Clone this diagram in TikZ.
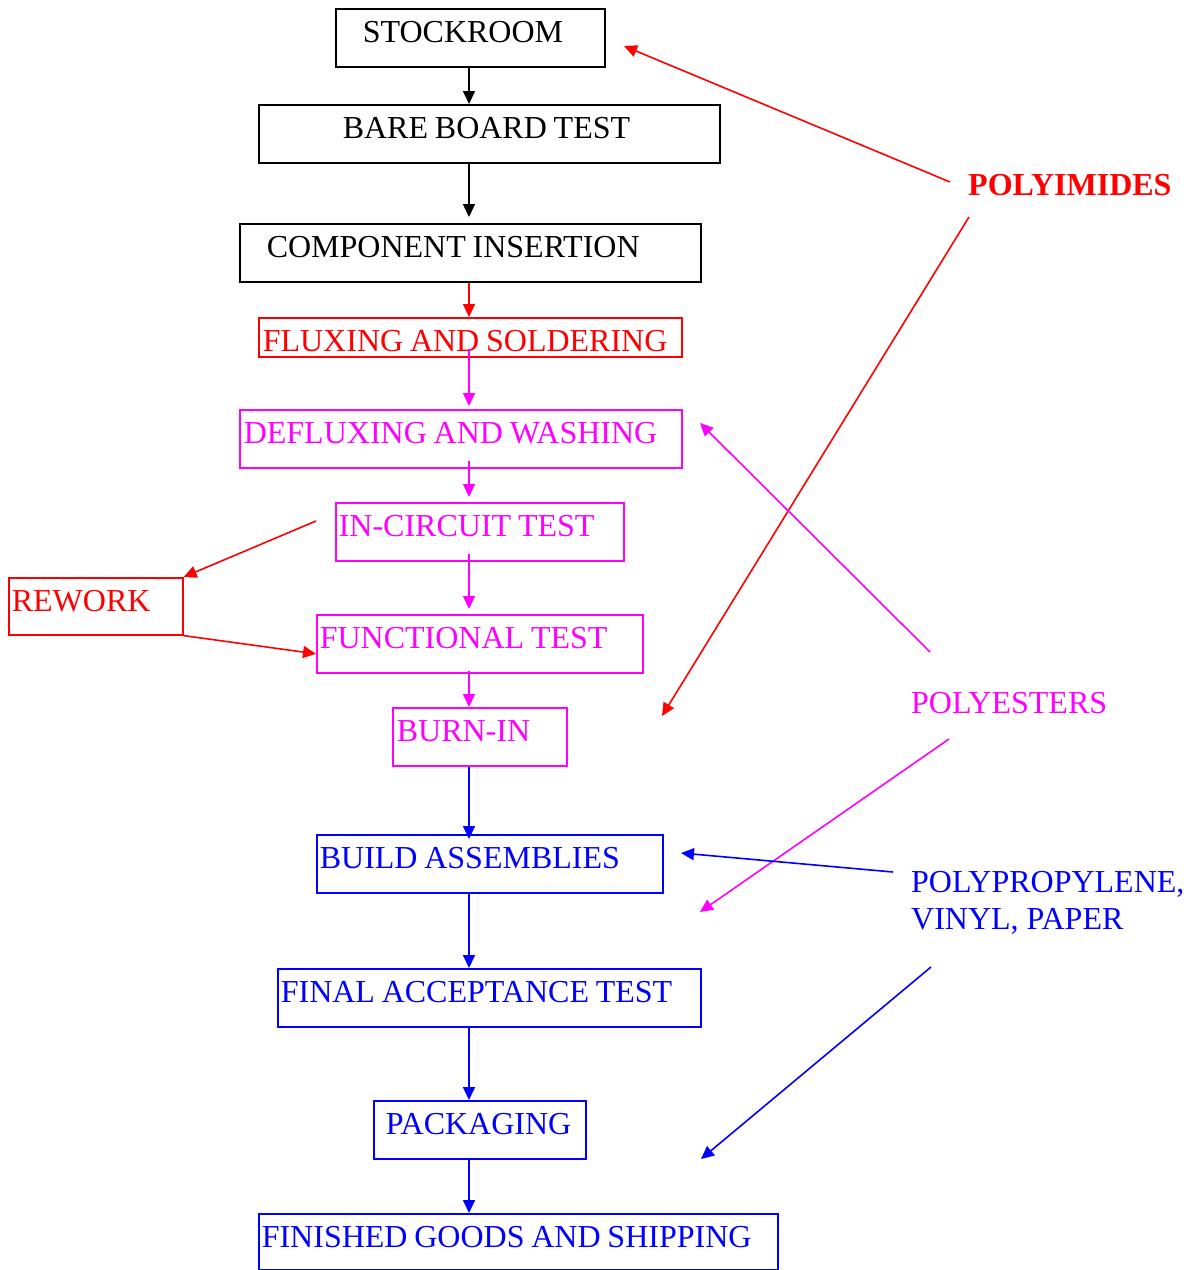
\documentclass[tikz,border=0pt]{standalone}
\usepackage{fontspec}
\setmainfont{Liberation Serif}
\usetikzlibrary{positioning,arrows.meta}
\definecolor{pred}{RGB}{255,0,0}
\definecolor{pmag}{RGB}{255,0,255}
\definecolor{pblue}{RGB}{0,0,255}
\newcommand\stagefont{\fontsize{32}{36}\selectfont\spaceskip=6.8pt\relax}

\begin{document}
\begin{tikzpicture}[
        x=1pt, y=-1pt,
        stage/.style={draw, rectangle, anchor=north west, line width=1.6pt,
            inner xsep=0pt, inner ysep=0pt, align=flush left,
            text height=33.5pt, text depth=24.5pt, font=\stagefont},
        material/.style={anchor=base west, inner sep=0pt, align=left,
            font=\fontsize{32}{36.3}\selectfont},
        strong/.style={font=\fontsize{32}{36}\selectfont\bfseries},
        flow/.style={-{Triangle[length=13pt,width=12pt]}, line width=1.6pt}
    ]
    \useasboundingbox (0,0) rectangle (1194,1270);

    \node[stage, text width=269pt] (stock) at (335,8) {\hspace*{27pt}STOCKROOM};
    \node[stage, text width=461pt] (bare) at (258,104) {\hspace*{84pt}BARE BOARD TEST};
    \node[stage, text width=461pt] (comp) at (239,223) {\hspace*{27pt}COMPONENT INSERTION};
    \node[stage, pred, text width=423pt, text depth=5.5pt] (flux) at (258,317) {\hspace*{4pt}FLUXING AND SOLDERING};
    \node[stage, pmag, text width=442pt] (deflux) at (239,409) {\hspace*{4pt}DEFLUXING AND WASHING};
    \node[stage, pmag, text width=288pt] (incirc) at (335,502) {\hspace*{3pt}IN-CIRCUIT TEST};
    \node[stage, pred, text width=174pt, text depth=23.5pt] (rework) at (8,577) {\hspace*{3pt}REWORK};
    \node[stage, pmag, text width=326pt] (func) at (316,614) {\hspace*{3pt}FUNCTIONAL TEST};
    \node[stage, pmag, text width=174pt] (burnin) at (392,707) {\hspace*{4pt}BURN-IN};
    \node[stage, pblue, text width=346pt] (build) at (316,834) {\hspace*{3pt}BUILD ASSEMBLIES};
    \node[stage, pblue, text width=423pt] (final) at (277,968) {\hspace*{3pt}FINAL ACCEPTANCE TEST};
    \node[stage, pblue, text width=212pt] (pack) at (373,1100) {\hspace*{12pt}PACKAGING};
    \node[stage, pblue, text width=519pt, text depth=22.5pt] (ship) at (258,1213) {\hspace*{3pt}FINISHED GOODS AND SHIPPING};

    \node[material, strong, pred] (polyimides) at (968,195) {POLYIMIDES};
    \node[material, pmag] (polyesters) at (911,713) {POLYESTERS};
    \node[material, pblue, anchor=north west] (polyprop) at (911,871.5) {POLYPROPYLENE,\\VINYL, PAPER};

    % main line
    \coordinate (spine) at (469,0);
    \draw[flow] (stock.south -| spine) -- (bare.north -| spine);
    \draw[flow, shorten >=6pt] (bare.south -| spine) -- (comp.north -| spine);
    \draw[flow, pred] (comp.south -| spine) -- (flux.north -| spine);
    \draw[flow, pmag, shorten <=-9pt, shorten >=3pt] (flux.south -| spine) -- (deflux.north -| spine);
    \draw[flow, pmag, shorten <=-8pt, shorten >=5pt] (deflux.south -| spine) -- (incirc.north -| spine);
    \draw[flow, pmag, shorten <=-8pt, shorten >=5pt] (incirc.south -| spine) -- (func.north -| spine);
    \draw[flow, pmag, shorten <=-3pt] (func.south -| spine) -- (burnin.north -| spine);
    \draw[flow, pblue, shorten >=-5pt] (burnin.south -| spine) -- (build.north -| spine);
    \draw[flow, pblue] (build.south -| spine) -- (final.north -| spine);
    \draw[flow, pblue] (final.south -| spine) -- (pack.north -| spine);
    \draw[flow, pblue] (pack.south -| spine) -- (ship.north -| spine);

    % rework loop
    \coordinate (fail) at (316,521);
    \draw[flow, pred] (fail) -- (rework.north east);
    \draw[flow, pred] (rework.south east) -- ([yshift=-10pt]func.west);

    % materials
    \coordinate (piA) at (950,182);
    \coordinate (piB) at (969,217);
    \coordinate (piAend) at (624,46);
    \coordinate (piBend) at (662,716);
    \coordinate (peA) at (930,652);
    \coordinate (peB) at (949,739);
    \coordinate (peAend) at (700,423);
    \coordinate (peBend) at (700,912);
    \coordinate (ppA) at (893,872);
    \coordinate (ppB) at (931,967);
    \coordinate (ppAend) at (681,853);
    \coordinate (ppBend) at (701,1159);
    \draw[flow, pred] (piA) -- (piAend);
    \draw[flow, pred] (piB) -- (piBend);
    \draw[flow, pmag] (peA) -- (peAend);
    \draw[flow, pmag] (peB) -- (peBend);
    \draw[flow, pblue] (ppA) -- (ppAend);
    \draw[flow, pblue] (ppB) -- (ppBend);
\end{tikzpicture}
\end{document}
